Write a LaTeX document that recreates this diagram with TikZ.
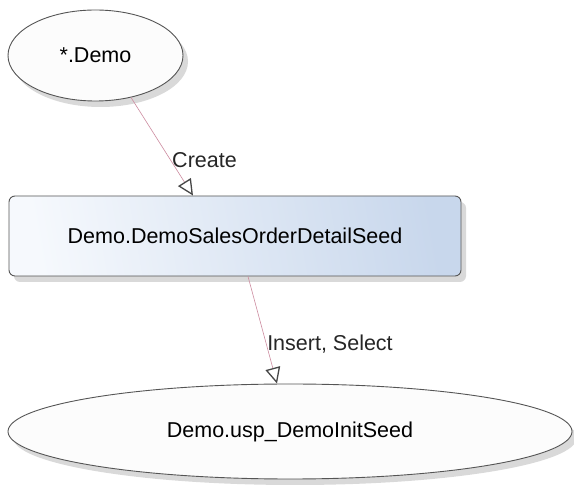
\documentclass[tikz,border=0pt]{standalone}
\usepackage{fontspec}
\setmainfont{Liberation Sans}
\usetikzlibrary{shapes.geometric,arrows.meta,calc,shadows}
\definecolor{nodeborder}{RGB}{85,85,85}
\definecolor{edgecol}{RGB}{205,140,160}
\definecolor{tipcol}{RGB}{70,70,70}
\definecolor{ellfill}{RGB}{252,252,252}
\definecolor{rectlight}{RGB}{246,249,253}
\definecolor{rectblue}{RGB}{200,215,236}
\tikzset{
  shadowed/.style={drop shadow={opacity=0.15,shadow xshift=5pt,shadow yshift=-6pt,fill=black}},
  ellnode/.style={ellipse,draw=nodeborder,line width=0.9pt,fill=ellfill,inner sep=0pt,shadowed,font=\fontsize{21.5}{25}\selectfont},
  rectnode/.style={rectangle,rounded corners=6pt,draw=nodeborder,line width=0.9pt,shadowed,
    left color=rectlight,right color=rectblue,shading angle=100,inner sep=0pt,font=\fontsize{21.5}{25}\selectfont},
  conn/.style={draw=edgecol,line width=0.6pt,-{Triangle[open,length=16pt,width=15pt,color=tipcol,line width=1.3pt]}},
  lbl/.style={font=\fontsize{21.5}{25}\selectfont,text=black!85,inner sep=0pt}
}
\begin{document}
\begin{tikzpicture}[x=1pt,y=-1pt]
\useasboundingbox (0,0) rectangle (574,494);
\fill[white] (0,0) rectangle (574,494);
\node[ellnode,minimum width=175pt,minimum height=91pt] (demo) at (95.5,55.5) {*.Demo};
\node[rectnode,minimum width=452pt,minimum height=80pt] (tbl) at (235,236) {Demo.DemoSalesOrderDetailSeed};
\node[ellnode,minimum width=564pt,minimum height=95pt] (proc) at (290,431.5) {Demo.usp\_DemoInitSeed};
\draw[conn] ($(demo.center)+(35.5,42)$) -- ($(tbl.north)+(-42,0)$);
\draw[conn] ($(tbl.south)+(13,0)$) -- ($(proc.north)+(-13,0)$);
\node[lbl] (lcreate) at (204.5,160) {Create};
\node[lbl] (linsert) at (330,344) {Insert, Select};
\end{tikzpicture}
\end{document}
